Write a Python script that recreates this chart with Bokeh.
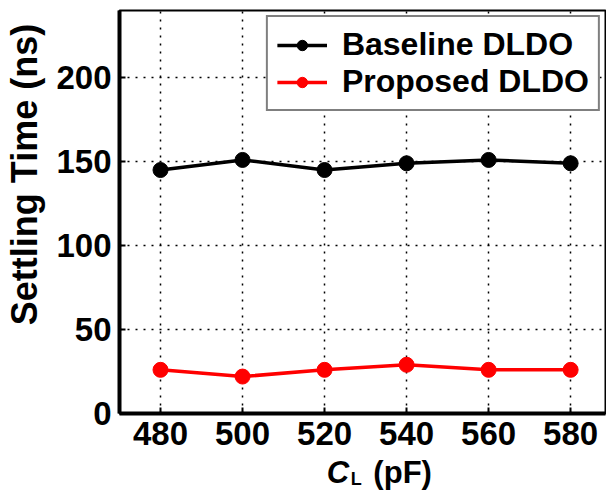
from bokeh.plotting import figure
from bokeh.models import Range1d, FixedTicker, Legend, LegendItem
from bokeh.layouts import row, column
from bokeh.core.properties import value
from bokeh.embed import file_html
from bokeh.resources import INLINE

# Data
cl_pf = [480, 500, 520, 540, 560, 580]
baseline_ns = [145, 151, 145, 149, 151, 149]
proposed_ns = [26, 22, 26, 29, 26, 26]
x_ticks = [480, 500, 520, 540, 560, 580]
y_ticks = [0, 50, 100, 150, 200]
series_names = ["Baseline DLDO", "Proposed DLDO"]
y_title = "Settling Time (ns)"
x_title_main, x_title_sub, x_title_unit = "C", "L", "(pF)"

FONT = "Liberation Sans"
LEFT_W = 50

# ---- main plot ----
p = figure(width=606 - LEFT_W, height=452, output_backend="svg", toolbar_location=None,
           title=None, x_range=Range1d(470, 588.5), y_range=Range1d(0, 240),
           min_border_left=119 - LEFT_W, min_border_right=1, min_border_top=10, min_border_bottom=39)
p.background_fill_color = "white"
p.border_fill_color = "white"
p.outline_line_color = "black"
p.outline_line_width = 2

for ax in (p.xaxis[0], p.yaxis[0]):
    ax.axis_line_width = 4
    ax.axis_line_color = "black"
    ax.major_tick_in = 6
    ax.major_tick_out = 0
    ax.major_tick_line_width = 2
    ax.minor_tick_line_color = None
    ax.major_label_text_font = FONT
    ax.major_label_text_font_style = "bold"
    ax.major_label_text_font_size = "33px"
    ax.major_label_text_color = "black"

p.xaxis.ticker = FixedTicker(ticks=x_ticks)
p.yaxis.ticker = FixedTicker(ticks=y_ticks)
p.xaxis.major_label_standoff = 8
p.yaxis.major_label_standoff = 8

for g in (p.xgrid[0], p.ygrid[0]):
    g.grid_line_color = "black"
    g.grid_line_dash = "2 6"
    g.grid_line_width = 1.5

r1 = p.line(cl_pf, baseline_ns, line_color="black", line_width=3.5)
m1 = p.scatter(cl_pf, baseline_ns, size=15, fill_color="black", line_color="black")
r2 = p.line(cl_pf, proposed_ns, line_color="red", line_width=3.5)
m2 = p.scatter(cl_pf, proposed_ns, size=15, fill_color="red", line_color="red")

legend = Legend(items=[LegendItem(label=series_names[0], renderers=[r1, m1]),
                       LegendItem(label=series_names[1], renderers=[r2, m2])],
                location="top_right")
legend.label_text_font = FONT
legend.label_text_font_style = "bold"
legend.label_text_font_size = "32px"
legend.label_text_color = "black"
legend.glyph_width = 50
legend.glyph_height = 26
legend.label_height = 26
legend.label_standoff = 15
legend.spacing = 0
legend.padding = 9
legend.margin = 5
legend.border_line_color = "black"
legend.border_line_width = 2
legend.background_fill_alpha = 1
p.add_layout(legend, "center")

# ---- y-axis title: an axis label of a narrow side figure (frame centred at y=174) ----
yl = figure(width=LEFT_W, height=490, output_backend="svg", toolbar_location=None,
            title=None, x_range=Range1d(0, 1), y_range=Range1d(0, 1),
            x_axis_location=None, y_axis_location="left",
            min_border_left=6, min_border_right=0, min_border_top=0, min_border_bottom=142)
yl.grid.visible = False
yl.outline_line_color = None
yl.background_fill_color = "white"
yl.border_fill_color = "white"
ya = yl.yaxis[0]
ya.ticker = FixedTicker(ticks=[])
ya.axis_line_color = None
ya.major_tick_line_color = None
ya.minor_tick_line_color = None
ya.major_tick_in = 0
ya.major_tick_out = 0
ya.major_label_standoff = 0
ya.axis_label = y_title
ya.axis_label_standoff = 0
ya.axis_label_text_font = FONT
ya.axis_label_text_font_style = "bold"
ya.axis_label_text_font_size = "36px"
ya.axis_label_text_color = "black"

# ---- x-axis title (frame aligned with the main plot; shares its x range) ----
xl = figure(width=606 - LEFT_W, height=38, output_backend="svg", toolbar_location=None,
            title=None, x_range=p.x_range, y_range=Range1d(490, 452),
            x_axis_location=None, y_axis_location=None,
            min_border=0, min_border_left=0, min_border_right=0,
            min_border_top=0, min_border_bottom=0)
xl.grid.visible = False
xl.outline_line_color = None
xl.background_fill_color = "white"
xl.border_fill_color = "white"
xl.text(x=[526.0], y=[454], text=[x_title_main], text_font=value(FONT),
        text_font_style="bold italic", text_font_size="31px", text_color="black",
        text_align="right", text_baseline="top")
xl.text(x=[526.4], y=[468], text=[x_title_sub], text_font=value(FONT),
        text_font_style="bold", text_font_size="18px", text_color="black",
        text_align="left", text_baseline="top")
xl.text(x=[531.9], y=[454], text=[x_title_unit], text_font=value(FONT),
        text_font_style="bold", text_font_size="31px", text_color="black",
        text_align="left", text_baseline="top")

layout = row(yl, column(p, xl, spacing=0), spacing=0)
open("out.html", "w").write(file_html(layout, INLINE))
